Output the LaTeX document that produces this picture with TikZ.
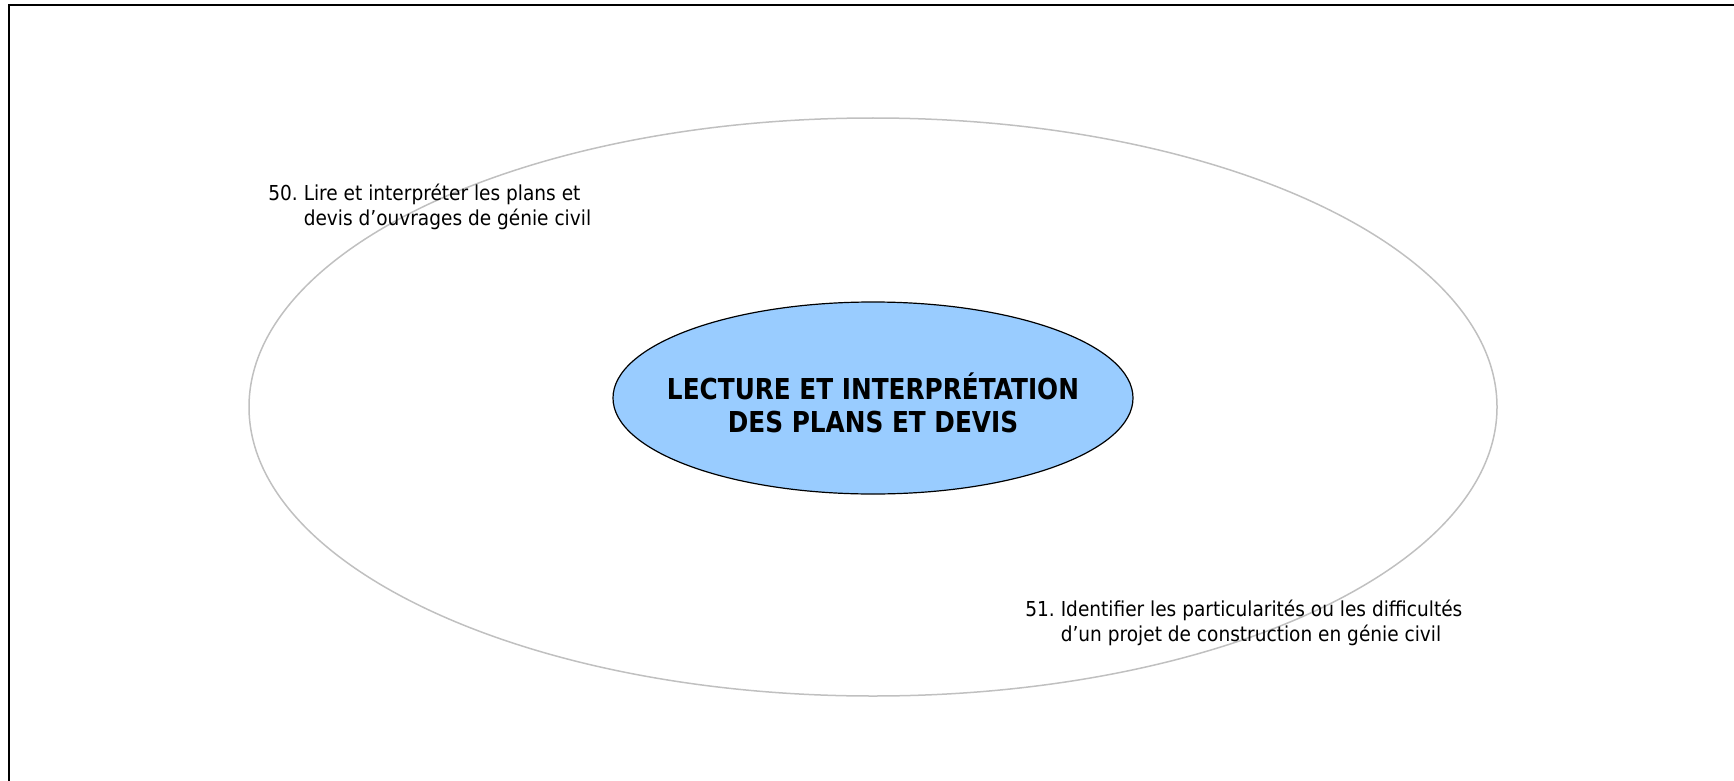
\documentclass[tikz,border=0pt]{standalone}
\usepackage{fontspec}
\setmainfont[FakeStretch=0.90]{DejaVu Sans}
\newfontfamily\themefont[FakeStretch=0.86]{DejaVu Sans}
\usetikzlibrary{shapes.geometric}
\definecolor{fblue}{HTML}{99CCFF}
\definecolor{fring}{HTML}{C0C0C0}
\tikzset{
  ring/.style    = {draw=fring, line width=0.75pt, ellipse, inner sep=0pt,
                    minimum width=624pt, minimum height=289pt},
  core/.style    = {draw, line width=0.6pt, fill=fblue, ellipse, inner sep=0pt,
                    minimum width=260pt, minimum height=96pt},
  title/.style   = {align=center, inner sep=0pt,
                    font=\themefont\fontsize{14.4}{16.5}\selectfont\bfseries},
  skill/.style   = {anchor=base west, inner sep=0pt,
                    font=\fontsize{10.3}{12.5}\selectfont},
}

\begin{document}
\begin{tikzpicture}[x=0.5pt, y=-0.5pt]
\useasboundingbox (0,0) rectangle (1734,781);
% ---- frame ----
\draw[line width=1pt] (9,781) -- (9,5.5) -- (1734,5.5);
% ---- rings ----
\node[ring] (outer) at (873,407) {};
\node[core] (centre) at (873,398) {};
\node[title] (theme) at (873,403) {LECTURE ET INTERPRÉTATION\\DES PLANS ET DEVIS};
% ---- competences ----
\node[skill] (c50) at (268,200)
     {50.\ \begin{tabular}[t]{@{}l@{}}Lire et interpréter les plans et\\
      devis d’ouvrages de génie civil\end{tabular}};
\node[skill] (c51) at (1025,616)
     {51.\ \begin{tabular}[t]{@{}l@{}}Identifier les particularités ou les difficultés\\
      d’un projet de construction en génie civil\end{tabular}};
\end{tikzpicture}
\end{document}
